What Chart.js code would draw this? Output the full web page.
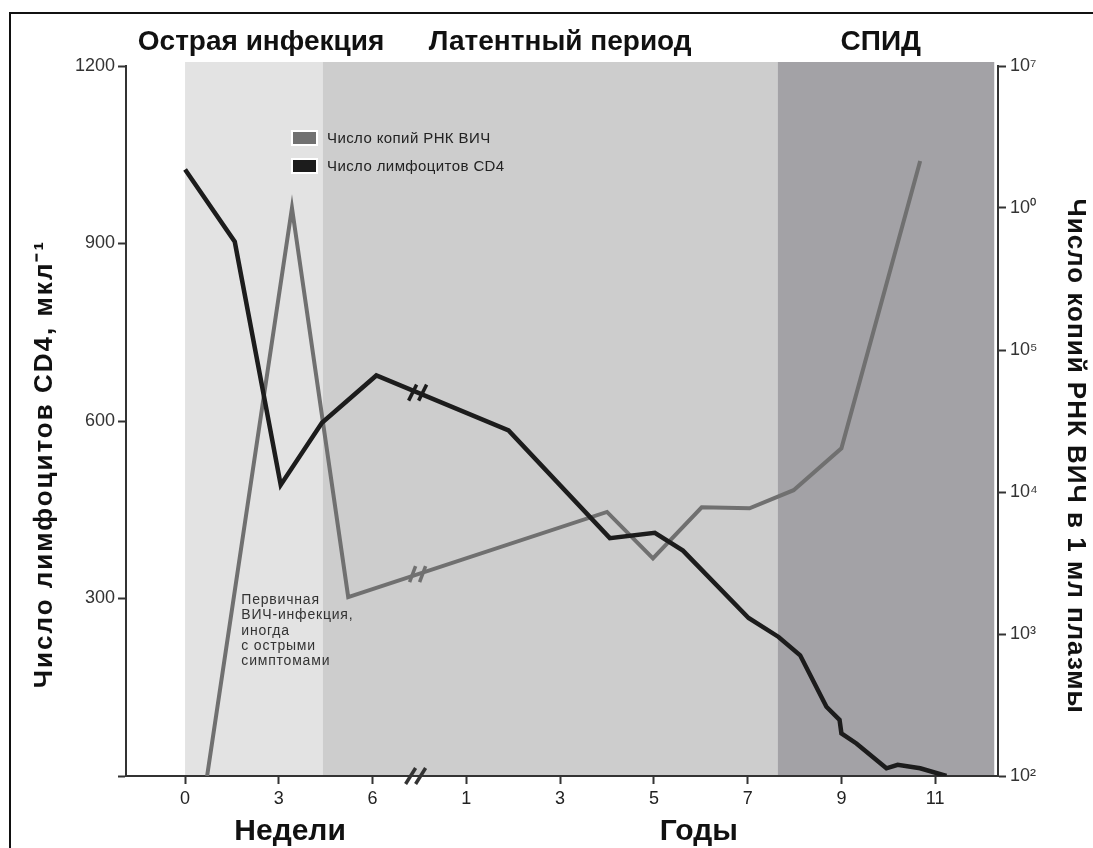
<!DOCTYPE html>
<html>
<head>
<meta charset="utf-8">
<script src="https://cdn.jsdelivr.net/npm/chart.js@4"></script>
<style>
  html, body { margin: 0; background: #fff; }
  canvas { display: block; }
</style>
</head>
<body>
<canvas id="chart" width="1093" height="848"></canvas>
<script>
// ось X: недели 0..6, потом разрыв, потом годы 1..11 (одна позиция на деление)
const xTickPos = [0, 1, 2, 3, 4, 5, 6, 7, 8];
const xTickLabels = ['0', '3', '6', '1', '3', '5', '7', '9', '11'];

// число лимфоцитов CD4, мкл-1 (левая ось)
const cd4X = [0, 0.53, 1.02, 1.46, 2.04, 3.45, 4.53, 5.01, 5.31, 6.01, 6.33, 6.56, 6.84, 6.98, 7.0, 7.16, 7.48, 7.6, 7.84, 8.12];
const cd4Y = [1025, 903, 492, 597, 677, 584, 402, 411, 381, 267, 235, 204, 117, 95, 72, 55, 13, 19, 13, 0];

// число копий РНК ВИЧ в 1 мл (правая ось, логарифм)
const hivX = [0.235, 1.14, 1.74, 4.5, 4.99, 5.51, 6.02, 6.49, 7.0, 7.84];
const hivY = [100, 1.0e6, 1820, 7240, 3410, 7800, 7680, 10300, 20300, 2.14e6];

const hivTickVals = [1e2, 1e3, 1e4, 1e5, 1e6, 1e7];
const hivTickLabels = ['10²', '10³', '10⁴', '10⁵', '10⁰', '10⁷'];
const cd4TickVals = [0, 300, 600, 900, 1200];

// фазы болезни
const phaseLabels = ['Острая инфекция', 'Латентный период', 'СПИД'];
const phaseLabelAt = [0.81, 4.0, 7.42];
const phaseStart = [0, 1.47, 6.32];
const phaseEnd = [1.47, 6.32, 8.63];
const phaseColors = ['#e3e3e3', '#cdcdcd', '#a3a2a6'];

const unitLabels = ['Недели', 'Годы'];
const unitLabelAt = [1.12, 5.48];
const breakAt = 2.48;

const noteLines = ['Первичная', 'ВИЧ-инфекция,', 'иногда', 'с острыми', 'симптомами'];

const NARROW = '"Liberation Sans Narrow", "Liberation Sans", Arial, sans-serif';
const SANS = '"Liberation Sans", Arial, sans-serif';

function lineYAt(chart, idx, px) {
  const pts = chart.getDatasetMeta(idx).data;
  for (let j = 0; j < pts.length - 1; j++) {
    if (pts[j].x <= px && px <= pts[j + 1].x) {
      const t = (px - pts[j].x) / (pts[j + 1].x - pts[j].x);
      return pts[j].y + t * (pts[j + 1].y - pts[j].y);
    }
  }
  return null;
}

function slashes(ctx, cx, cy, color, tilt) {
  ctx.strokeStyle = color;
  ctx.lineWidth = 3.5;
  [-5, 5].forEach(dx => {
    ctx.beginPath();
    ctx.moveTo(cx + dx - tilt, cy + 8);
    ctx.lineTo(cx + dx + tilt, cy - 8);
    ctx.stroke();
  });
}

const decor = {
  id: 'decor',
  beforeDraw(chart) {
    const {ctx, chartArea: a, scales: {x}} = chart;
    ctx.save();
    ctx.strokeStyle = '#111';
    ctx.lineWidth = 2;
    ctx.beginPath();
    ctx.moveTo(10, 848); ctx.lineTo(10, 13); ctx.lineTo(1093, 13);
    ctx.stroke();
    phaseStart.forEach((s, i) => {
      const x0 = x.getPixelForValue(s), x1 = x.getPixelForValue(phaseEnd[i]);
      ctx.fillStyle = phaseColors[i];
      ctx.fillRect(x0, a.top - 4, x1 - x0, a.bottom - a.top + 4);
    });
    ctx.restore();
  },
  afterDatasetsDraw(chart) {
    const {ctx, chartArea: a, scales: {x, yL}} = chart;
    ctx.save();
    // разрывы на линиях и на оси
    const bx = x.getPixelForValue(breakAt);
    chart.data.datasets.forEach((ds, i) => {
      const y = lineYAt(chart, i, bx);
      if (y !== null) slashes(ctx, bx, y, ds.borderColor, i === 0 ? 3 : 4);
    });
    slashes(ctx, bx - 2, a.bottom, '#333', 5);

    // легенда
    ctx.font = '15px ' + SANS;
    ctx.letterSpacing = '0.4px';
    ctx.textBaseline = 'middle';
    ctx.textAlign = 'left';
    chart.data.datasets.forEach((ds, i) => {
      const top = 131 + i * 28;
      ctx.fillStyle = ds.borderColor;
      ctx.strokeStyle = '#fff';
      ctx.lineWidth = 2;
      ctx.fillRect(292, top, 25, 14);
      ctx.strokeRect(292, top, 25, 14);
      ctx.fillStyle = '#222';
      ctx.fillText(ds.label, 327, top + 8);
    });

    // подпись про первичную инфекцию
    ctx.font = '14px ' + SANS;
    ctx.letterSpacing = '0.8px';
    ctx.fillStyle = '#333';
    const nx = x.getPixelForValue(0.6), ny = yL.getPixelForValue(297);
    noteLines.forEach((t, i) => ctx.fillText(t, nx, ny + i * 15.3));
    ctx.restore();
  },
  afterDraw(chart) {
    const {ctx, chartArea: a, scales: {x}} = chart;
    ctx.save();
    ctx.fillStyle = '#111';
    ctx.textAlign = 'center';
    ctx.textBaseline = 'middle';
    ctx.font = 'bold 28px ' + NARROW;
    phaseLabels.forEach((t, i) => ctx.fillText(t, x.getPixelForValue(phaseLabelAt[i]), a.top - 24));
    ctx.font = 'bold 30px ' + NARROW;
    unitLabels.forEach((t, i) => ctx.fillText(t, x.getPixelForValue(unitLabelAt[i]), 832));

    ctx.font = 'bold 26px ' + SANS;
    ctx.save();
    ctx.letterSpacing = '2px';
    ctx.translate(45, 464);
    ctx.rotate(-Math.PI / 2);
    ctx.fillText('Число лимфоцитов CD4, мкл⁻¹', 0, 0);
    ctx.restore();
    ctx.save();
    ctx.letterSpacing = '1px';
    ctx.translate(1075, 456);
    ctx.rotate(Math.PI / 2);
    ctx.fillText('Число копий РНК ВИЧ в 1 мл плазмы', 0, 0);
    ctx.restore();
    ctx.restore();
  }
};

const axisGrid = {drawOnChartArea: false, tickLength: 8, tickColor: '#333', tickWidth: 2};
const axisBorder = {color: '#333', width: 2};

new Chart(document.getElementById('chart'), {
  type: 'line',
  data: {
    datasets: [
      {
        label: 'Число копий РНК ВИЧ',
        data: hivX.map((v, i) => ({x: v, y: hivY[i]})),
        yAxisID: 'yR',
        borderColor: '#707070',
        borderWidth: 4,
        order: 2
      },
      {
        label: 'Число лимфоцитов CD4',
        data: cd4X.map((v, i) => ({x: v, y: cd4Y[i]})),
        yAxisID: 'yL',
        borderColor: '#1c1c1c',
        borderWidth: 4.5,
        order: 1
      }
    ]
  },
  options: {
    responsive: false,
    animation: false,
    devicePixelRatio: 1,
    elements: {
      point: {radius: 0},
      line: {tension: 0, borderJoinStyle: 'miter', fill: false}
    },
    layout: {padding: {top: 66, left: 0, right: 0, bottom: 0}},
    plugins: {legend: {display: false}, tooltip: {enabled: false}},
    scales: {
      x: {
        type: 'linear',
        min: -0.63,
        max: 8.67,
        afterFit: s => { s.height = 72; },
        afterBuildTicks: s => { s.ticks = xTickPos.map(v => ({value: v})); },
        ticks: {
          callback: (v, i) => xTickLabels[i],
          color: '#222',
          font: {family: NARROW, size: 18},
          padding: 4,
          maxRotation: 0
        },
        grid: axisGrid,
        border: axisBorder
      },
      yL: {
        type: 'linear',
        position: 'left',
        min: 0,
        max: 1200,
        afterFit: s => { s.width = 126; },
        afterBuildTicks: s => { s.ticks = cd4TickVals.map(v => ({value: v})); },
        ticks: {
          callback: v => (v === 0 ? '' : v),
          color: '#333',
          font: {family: SANS, size: 18},
          padding: 3
        },
        grid: axisGrid,
        border: axisBorder
      },
      yR: {
        type: 'logarithmic',
        position: 'right',
        min: 100,
        max: 1e7,
        afterFit: s => { s.width = 95; },
        afterBuildTicks: s => { s.ticks = hivTickVals.map(v => ({value: v})); },
        ticks: {
          callback: (v, i) => hivTickLabels[i],
          color: '#333',
          font: {family: SANS, size: 18},
          padding: 4
        },
        grid: axisGrid,
        border: axisBorder
      }
    }
  },
  plugins: [decor]
});
</script>
</body>
</html>
